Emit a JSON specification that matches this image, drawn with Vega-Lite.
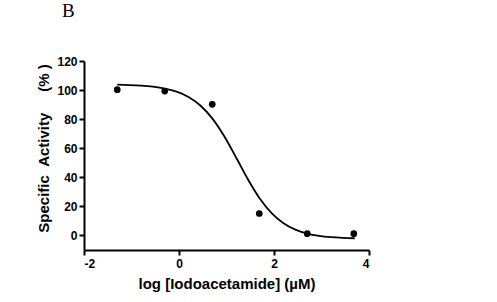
{
  "$schema": "https://vega.github.io/schema/vega-lite/v6.json",
  "width": 285,
  "height": 189,
  "autosize": {"type": "none"},
  "padding": {"left": 84, "top": 61, "right": 128, "bottom": 52},
  "background": "white",
  "config": {
    "view": {"stroke": null},
    "axis": {
      "grid": false,
      "domainColor": "black",
      "domainWidth": 2,
      "tickColor": "black",
      "tickWidth": 2,
      "tickSize": 5,
      "labelOverlap": false,
      "labelFont": "Liberation Sans",
      "labelFontWeight": "bold",
      "labelFontSize": 12,
      "labelColor": "black",
      "titleFont": "Liberation Sans",
      "titleFontWeight": "bold",
      "titleFontSize": 15,
      "titleColor": "black"
    }
  },
  "title": {
    "text": "B",
    "font": "Liberation Serif",
    "fontSize": 19,
    "fontWeight": "normal",
    "color": "black",
    "anchor": "start",
    "frame": "group",
    "dx": -22,
    "offset": 34
  },
  "datasets": {
    "pts": [
      {"logc": -1.3, "activity": 100.3},
      {"logc": -0.3, "activity": 99.3},
      {"logc": 0.7, "activity": 90.2},
      {"logc": 1.69, "activity": 15.1},
      {"logc": 2.7, "activity": 1.2},
      {"logc": 3.68, "activity": 1.2}
    ],
    "fit": [
      {"logc": -1.3, "activity": 103.7},
      {"logc": -1.05, "activity": 103.47},
      {"logc": -0.8, "activity": 103.06},
      {"logc": -0.55, "activity": 102.33},
      {"logc": -0.3, "activity": 101.07},
      {"logc": -0.05, "activity": 98.9},
      {"logc": 0.2, "activity": 95.26},
      {"logc": 0.45, "activity": 89.4},
      {"logc": 0.7, "activity": 80.54},
      {"logc": 0.95, "activity": 68.4},
      {"logc": 1.2, "activity": 53.78},
      {"logc": 1.45, "activity": 38.71},
      {"logc": 1.7, "activity": 25.44},
      {"logc": 1.95, "activity": 15.31},
      {"logc": 2.2, "activity": 8.38},
      {"logc": 2.45, "activity": 3.98},
      {"logc": 2.7, "activity": 1.33},
      {"logc": 2.95, "activity": -0.23},
      {"logc": 3.2, "activity": -1.13},
      {"logc": 3.45, "activity": -1.64},
      {"logc": 3.7, "activity": -1.93}
    ]
  },
  "encoding": {
    "x": {
      "field": "logc", "type": "quantitative",
      "scale": {"domain": [-2, 4], "nice": false},
      "axis": {
        "values": [-2, 0, 2, 4],
        "labelExpr": "datum.value < 0 ? '-' + abs(datum.value) : '' + datum.value",
        "labelOverlap": false,
        "title": "log [Iodoacetamide] (\u00b5M)",
        "titlePadding": 7,
        "labelPadding": 3
      }
    },
    "y": {
      "field": "activity", "type": "quantitative",
      "scale": {"domain": [-10, 120], "nice": false, "zero": false},
      "axis": {
        "values": [0, 20, 40, 60, 80, 100, 120],
        "tickCount": 7,
        "labelOverlap": false,
        "labelBound": false,
        "title": "Specific\u00a0\u00a0Activity\u00a0\u00a0\u00a0\u00a0\u00a0(%\u00a0)",
        "titleY": 87,
        "titlePadding": 5,
        "labelPadding": 2
      }
    }
  },
  "layer": [
    {
      "data": {"name": "fit"},
      "mark": {"type": "line", "color": "black", "strokeWidth": 1.8, "interpolate": "monotone"}
    },
    {
      "data": {"name": "pts"},
      "mark": {"type": "point", "filled": true, "color": "black", "opacity": 1, "size": 45}
    }
  ]
}
